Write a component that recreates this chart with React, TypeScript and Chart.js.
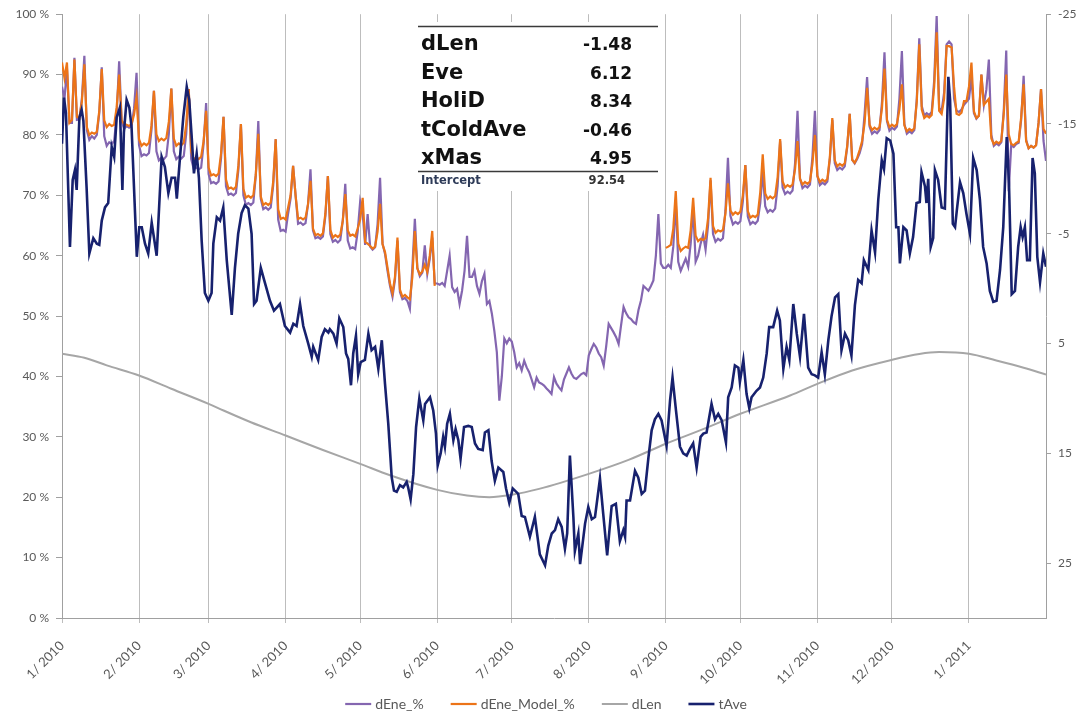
import React, { useEffect, useRef } from 'react';
import { Chart, registerables } from 'chart.js';

Chart.register(...registerables);

// ---- axis ticks ----
const monthTickDays = [0, 31, 59, 90, 120, 151, 181, 212, 243, 273, 304, 334, 365];
const monthTickLabels = ['1/ 2010', '2/ 2010', '3/ 2010', '4/ 2010', '5/ 2010', '6/ 2010', '7/ 2010', '8/ 2010', '9/ 2010', '10/ 2010', '11/ 2010', '12/ 2010', '1/ 2011'];
const leftTicks = [0, 10, 20, 30, 40, 50, 60, 70, 80, 90, 100];
const rightTicks = [-25, -15, -5, 5, 15, 25];

// ---- dEne_% : daily values, day 0 = 1 Jan 2010 ----
const dEneValues = [
  88, 86, 91,
  82, 82, 92.8, 82.5, 82.6, 86, 93.1,
  80.8, 79.2, 79.8, 79.4, 80, 83.6, 91.2,
  79.8, 78.2, 78.8, 78.5, 79, 83.4, 92.2,
  82.3, 81, 81.5, 81.2, 81.5, 84.4, 90.3,
  78.3, 76.5, 76.8, 76.6, 77, 80.8, 87.3,
  77.3, 75.8, 76.2, 76, 76.5, 80.2, 87.7,
  77.3, 76, 76.4, 76.1, 76.5, 80.2, 87.6,
  76, 74.4, 74.6, 74.3, 74.6, 78.6, 85.3,
  73.5, 72, 72.2, 71.9, 72.3, 76.1, 83,
  71.5, 70.1, 70.3, 70, 70.4, 74.3, 81.8,
  70, 68.4, 68.7, 68.4, 68.8, 73.3, 82.3,
  69.4, 67.7, 68, 67.6, 68, 71.7, 79.3,
  66, 64.1, 64.3, 64, 67, 69.5, 74.9,
  70, 65.3, 65.5, 65.1, 65.4, 68.5, 74.3,
  64.2, 62.9, 63.1, 62.8, 63.2, 66.6, 73.2,
  63.6, 62.3, 62.6, 62.2, 62.6, 65.8, 71.9,
  62.5, 61.2, 61.4, 61.1, 64, 69, 67,
  61.8, 66.9, 61.5, 61, 61.4, 65.2, 72.9,
  62, 60.3, 57.5, 55, 53.2, 56, 62.5,
  54, 52.8, 53, 52.5, 51.2, 58, 66.1,
  58, 56.6, 57.2, 61.7, 57, 59.5, 63,
  55.4, 55.4, 55.2, 55.5, 55, 57.5, 60,
  54.8, 54, 54.5, 52, 54.2, 57.5, 63.3,
  56.5, 56.5, 57.5, 55, 53.7, 55.8, 57,
  52, 52.5, 50.4, 47.5, 44, 36, 40,
  46.3, 45.5, 46.3, 45.8, 44, 41.5, 42.2,
  41, 42.6, 41.5, 40.7, 39.5, 38.2, 39.8,
  39, 38.8, 38.5, 38, 37.6, 37.1, 39.9,
  38.8, 38.2, 37.7, 39.5, 40.5, 41.5, 40.5,
  39.8, 39.6, 40, 40.4, 40.6, 40.2, 43.5,
  44.5, 45.4, 44.8, 43.8, 43.2, 41.8, 45,
  48.7, 48, 47.3, 46.5, 45.4, 48.5, 51.5,
  50.5, 49.8, 49.5, 49, 48.7, 51, 52.6,
  55, 54.6, 54.2, 55, 55.9, 60, 66.9,
  58.7, 58,
  58, 58.5, 58, 61.5, 69,
  59, 57.5, 58.5, 59.5, 58.2, 62, 68,
  59, 60, 62, 63.5, 61, 65, 72.5,
  63.6, 62.3, 62.8, 62.5, 62.9, 67.5, 76.2,
  66.6, 65.2, 65.6, 65.3, 65.7, 69, 75,
  66.5, 65.2, 65.6, 65.3, 65.8, 68.7, 74,
  68.2, 67.2, 67.6, 67.3, 67.8, 71.5, 79,
  71.3, 70.2, 70.6, 70.3, 70.8, 75.2, 84,
  72.8, 71.2, 71.6, 71.3, 71.8, 76.3, 84,
  73.2, 71.7, 72.1, 71.8, 72.3, 75.9, 82.5,
  75.3, 74.2, 74.6, 74.3, 74.8, 78, 83.5,
  75.9, 75.3, 76, 77, 78.5, 83.5, 89.6,
  81.4, 80.2, 80.6, 80.3, 80.8, 85.5, 93.7,
  82.3, 80.7, 81.2, 80.9, 81.4, 86, 93.9,
  81.8, 80.2, 80.6, 80.3, 80.8, 86, 96,
  84.8, 83.2, 83.6, 83.3, 83.8, 89, 99.7,
  84.5, 84, 87, 95, 95.5, 95, 86,
  84, 83.8, 84.2, 85, 85.5, 86, 89.6,
  83.6, 82.7, 83.2, 90, 85, 87.5, 92.5,
  80, 78.2, 78.6, 78.3, 78.8, 84, 94,
  70.7, 78.3, 78, 78.5, 78.7, 82.5, 89.8,
  79.2, 77.8, 78.2, 77.9, 78.3, 82, 87.6,
  79, 75.7,
];

// ---- dEne_Model_% : two fitted periods ----
const modelPart1Start = 0;
const modelPart1 = [
  92, 89.4, 92,
  82, 82.5, 92.5, 83, 82.8, 85.5, 91.7,
  81.3, 80, 80.4, 80.2, 80.5, 84, 90.9,
  82.4, 81.3, 81.8, 81.5, 81.7, 84.6, 90,
  82.4, 81.8, 81.7, 81.5, 81.8, 83.4, 86.2,
  79.3, 78.2, 78.6, 78.3, 78.7, 81.5, 87.3,
  80.1, 79, 79.4, 79.1, 79.5, 82.2, 87.7,
  79.4, 78.2, 78.6, 78.3, 78.7, 81.8, 87.6,
  77.3, 75.9, 76.3, 76, 76.4, 79, 84,
  74.6, 73.3, 73.5, 73.2, 73.6, 76.9, 83,
  72.6, 71.1, 71.3, 71, 71.4, 75, 81.8,
  71.1, 69.6, 69.9, 69.6, 70, 73.5, 80.2,
  69.8, 68.4, 68.7, 68.4, 68.8, 72.3, 79.3,
  67.7, 66.1, 66.3, 66, 68, 70, 74.9,
  70, 66.1, 66.3, 66, 66.3, 68.5, 72.4,
  64.5, 63.4, 63.6, 63.3, 63.7, 67, 73.2,
  64.3, 63, 63.4, 63.1, 63.5, 65.8, 70.2,
  64.2, 63.3, 63.5, 63.2, 64.5, 66, 69.6,
  62.3, 62, 61.6, 61.2, 61.5, 64, 68.6,
  61.9, 60.6, 58, 55.4, 53.8, 56.5, 63,
  54.4, 53.2, 53.5, 53.1, 52.8, 56.5, 64.1,
  57.9, 56.9, 57.4, 58.5, 57.3, 60, 64.1,
  55,
];
const modelPart2Start = 243;
const modelPart2 = [
  61.3, 61.5, 61.8, 64.5, 70.7,
  62, 60.8, 61.2, 61.5, 61.3, 64.2, 69.6,
  63.3, 62.4, 62.8, 62.6, 62.9, 66.2, 72.9,
  64.9, 63.8, 64.2, 64, 64.3, 67, 72,
  67.5, 66.8, 67.2, 66.9, 67.3, 70, 75,
  67.4, 66.3, 66.6, 66.4, 66.8, 70.5, 76.8,
  70.3, 69.4, 69.8, 69.5, 69.9, 73, 79.3,
  72.3, 71.3, 71.7, 71.4, 71.8, 74.3, 79,
  72.7, 71.8, 72.2, 71.9, 72.3, 75.2, 80,
  73.2, 72.2, 72.6, 72.3, 72.7, 76.3, 82.8,
  75.8, 74.8, 75.2, 74.9, 75.3, 78.2, 83.5,
  75.9, 75.4, 76.2, 77.5, 79, 82, 87.8,
  81.7, 80.8, 81.2, 80.9, 81.3, 84.5, 91,
  82.5, 81.3, 81.7, 81.4, 81.8, 84.2, 88.4,
  81.6, 80.6, 81, 80.7, 81.1, 85.5, 95,
  84.2, 82.8, 83.2, 82.9, 83.3, 88, 97,
  84, 83.5, 86, 94.7, 94.7, 94.5, 88,
  83.5, 83.3, 83.7, 85.6, 85.6, 88, 92,
  83.9, 82.8, 83.2, 90, 85, 85.5, 86,
  79.4, 78.5, 78.9, 78.6, 79, 83.5, 90,
  80.1, 78.5, 78.3, 78.7, 78.9, 82.9, 88.4,
  79, 77.8, 78.2, 77.9, 78.3, 82, 87.6,
  81, 80.2,
];

// ---- dLen (day length, hours, right axis) ----
const dLenDays = [0, 9, 18, 31, 44, 59, 65, 76, 90, 105, 120, 132, 151, 163, 172, 181, 192, 212, 228, 243, 258, 273, 293, 304, 318, 334, 345, 353, 365, 376, 387, 396];
const dLenValues = [5.93, 6.29, 6.99, 7.91, 9.12, 10.49, 11.1, 12.17, 13.38, 14.7, 15.96, 17.0, 18.33, 18.85, 19.0, 18.78, 18.24, 16.87, 15.6, 14.13, 12.8, 11.4, 9.73, 8.67, 7.45, 6.48, 5.95, 5.78, 5.93, 6.54, 7.2, 7.82];

// ---- tAve (temperature, right axis, reversed) ----
const tAveDays = [
  0, 0.8, 1.6, 3.2, 4.3, 5.2, 5.9, 7.0, 7.9, 8.6, 9.9, 11.0, 12.6, 14.0, 15.0, 16.0, 17.3, 18.6, 20.0, 21.0,
  22.0, 23.3, 24.3, 24.9, 26.0, 27.1, 28.0, 30.1, 31.1, 32.1, 33.4, 34.7, 36.1, 38.1, 40.1, 41.4, 42.8, 44.1, 45.5, 46.2,
  47.5, 48.8, 50.2, 51.2, 52.2, 53.1, 54.2, 55.1, 56.2, 57.5, 58.9, 60.2, 60.9, 62.3, 63.6, 64.9, 66.3, 68.3, 69.6, 70.9,
  72.3, 73.6, 75.0, 76.3, 77.3, 78.3, 80.0, 81.7, 83.7, 85.3, 87.7, 89.7, 91.1, 91.8, 93.1, 94.4, 95.8, 97.1, 99.1, 100.5,
  101.1, 103.1, 104.5, 105.8, 107.2, 107.8, 109.2, 110.5, 111.6, 113.2, 114.3, 115.2, 116.3, 117.2, 118.3, 119.2, 120.2, 121.9, 123.3, 124.6,
  126.0, 127.3, 128.7, 130.0, 131.3, 132.7, 133.6, 134.7, 136.0, 137.3, 138.7, 139.3, 140.3, 141.4, 142.5, 143.8, 145.4, 146.1, 148.1, 149.4,
  150.5, 151.2, 152.4, 153.4, 154.1, 155.0, 156.1, 157.5, 158.4, 159.5, 160.4, 161.8, 163.5, 164.9, 166.2, 167.5, 169.3, 170.2, 171.6, 172.9,
  174.2, 175.6, 177.6, 178.7, 180.0, 181.4, 183.6, 185.0, 186.3, 188.3, 190.3, 192.3, 194.4, 195.7, 197.1, 198.4, 199.7, 201.1, 202.4, 203.3,
  204.4, 205.8, 206.4, 207.8, 208.5, 210.5, 211.8, 213.2, 214.5, 216.5, 217.8, 219.4, 221.2, 222.9, 224.5, 225.9, 226.6, 227.2, 228.6, 230.6,
  231.9, 233.3, 234.6, 236.0, 237.3, 238.6, 240.0, 241.3, 243.3, 244.7, 245.7, 247.1, 248.7, 250.0, 251.4, 252.7, 254.0, 255.4, 257.0, 258.1,
  259.4, 261.4, 262.8, 264.1, 265.5, 267.2, 268.1, 269.5, 270.8, 272.2, 272.8, 274.2, 275.5, 276.6, 277.5, 279.5, 280.9, 282.2, 283.6, 284.6,
  286.2, 287.8, 288.9, 290.3, 291.6, 292.7, 294.3, 295.7, 297.0, 298.6, 300.3, 301.7, 303.0, 304.3, 305.7, 307.0, 308.4, 309.7, 311.1, 312.4,
  313.7, 315.1, 316.4, 317.7, 319.1, 320.4, 321.8, 322.7, 324.5, 325.8, 327.2, 328.5, 329.9, 330.8, 331.9, 333.3, 334.6, 335.7, 336.6, 337.2,
  338.6, 339.9, 341.2, 342.5, 343.9, 345.2, 345.9, 347.3, 347.9, 348.6, 349.6, 350.6, 351.3, 352.6, 354.0, 355.3, 356.7, 357.4, 358.5, 359.4,
  360.1, 361.4, 362.7, 364.0, 365.4, 366.7, 368.1, 369.4, 370.7, 372.1, 373.4, 374.8, 376.1, 377.5, 378.8, 380.2, 381.1, 382.2, 383.5, 384.8,
  385.8, 386.6, 387.5, 388.4, 389.5, 390.6, 391.5, 392.5, 393.6, 394.9, 396.0,
];
const tAveValues = [
  -13.2, -17.4, -16.0, -3.8, -9.9, -10.8, -9.0, -15.6, -16.3, -15.3, -9.2, -3.2, -4.6, -4.1, -4.0, -6.2, -7.4, -7.8, -12.9, -12.0,
  -15.6, -16.5, -9.0, -14.2, -17.2, -16.5, -14.7, -2.9, -5.6, -5.6, -4.1, -3.2, -6.0, -3.0, -12.0, -11.1, -8.7, -10.1, -10.1, -8.2,
  -12.0, -15.6, -18.4, -17.2, -13.8, -10.5, -12.3, -10.1, -4.4, 0.4, 1.1, 0.4, -4.1, -6.5, -6.2, -7.4, -2.6, 2.4, -1.9, -5.0,
  -6.9, -7.6, -7.3, -5.0, 1.4, 1.1, -1.9, -0.5, 1.1, 2.0, 1.4, 3.4, 3.8, 4.0, 3.2, 3.4, 1.4, 3.4, 5.0, 6.2,
  5.3, 6.5, 4.4, 3.7, 4.0, 3.7, 4.1, 5.0, 2.7, 3.5, 5.9, 6.4, 8.8, 5.9, 4.3, 7.8, 6.7, 6.5, 4.1, 5.6,
  5.3, 7.3, 4.7, 8.7, 12.3, 17.2, 18.4, 18.5, 17.9, 18.1, 17.6, 18.1, 19.2, 16.9, 12.6, 10.0, 12.0, 10.5, 9.9, 11.1,
  13.2, 16.1, 15.0, 13.5, 14.4, 12.3, 11.4, 13.8, 12.8, 13.8, 15.5, 12.6, 12.5, 12.6, 14.1, 14.6, 14.7, 13.1, 12.9, 15.7,
  17.5, 16.3, 16.7, 18.2, 19.5, 18.2, 18.7, 20.7, 20.8, 22.6, 20.8, 24.2, 25.2, 23.4, 22.3, 22.0, 21.0, 21.7, 23.7, 22.3,
  15.2, 20.8, 23.9, 22.3, 25.1, 21.4, 19.9, 21.0, 20.8, 17.3, 20.5, 24.3, 19.8, 19.6, 23.0, 22.0, 22.6, 19.3, 19.3, 16.6,
  17.2, 18.7, 18.4, 15.4, 12.9, 11.9, 11.4, 12.0, 14.3, 10.2, 8.1, 11.1, 14.4, 15.0, 15.2, 14.6, 14.1, 16.3, 13.5, 13.2,
  13.1, 10.5, 11.9, 11.4, 12.0, 14.0, 9.9, 9.0, 7.0, 7.2, 8.5, 6.5, 9.6, 10.9, 9.9, 9.3, 9.0, 8.1, 5.9, 3.5,
  3.5, 2.0, 2.9, 7.3, 5.3, 6.5, 1.4, 4.1, 6.2, 2.3, 7.2, 7.8, 7.9, 8.1, 5.8, 7.8, 4.7, 2.5, 0.8, 0.5,
  5.6, 4.1, 4.7, 6.1, 1.5, -0.8, -0.5, -2.6, -1.7, -5.3, -3.3, -8.1, -11.7, -10.9, -13.7, -13.5, -12.3, -5.6, -5.6, -2.3,
  -5.6, -5.3, -3.2, -4.7, -7.8, -7.9, -10.6, -9.3, -7.8, -10.0, -3.8, -4.6, -10.8, -9.9, -7.4, -7.3, -19.3, -17.2, -5.9, -5.6,
  -7.1, -9.7, -8.7, -6.8, -5.0, -11.9, -10.8, -8.1, -3.8, -2.3, 0.2, 1.2, 1.1, -1.7, -5.6, -13.8, -9.6, 0.5, 0.2, -3.8,
  -5.6, -4.7, -5.6, -2.6, -2.6, -11.9, -10.5, -2.9, -0.6, -3.2, -2.0,
];

// ---- regression table ----
const coefNames = ['dLen', 'Eve', 'HoliD', 'tColdAve', 'xMas'];
const coefValues = ['-1.48', '6.12', '8.34', '-0.46', '4.95'];
const interceptLabel = 'Intercept';
const interceptValue = '92.54';

const PURPLE = '#8466B0';
const ORANGE = '#EC7418';
const GRAY = '#A6A6A6';
const NAVY = '#17216E';
const TEXT = '#595959';
const GRID = '#BDBDBD';
const AXIS = '#A0A0A0';

const tablePlugin = {
  id: 'coefTable',
  beforeDatasetsDraw(chart: any) {
    const ctx = chart.ctx;
    ctx.save();
    ctx.fillStyle = '#ffffff';
    ctx.fillRect(412, 22, 252, 169);
    ctx.strokeStyle = '#3a3a3a';
    ctx.lineWidth = 1.5;
    ctx.beginPath();
    ctx.moveTo(418, 26.5);
    ctx.lineTo(658, 26.5);
    ctx.moveTo(418, 171.5);
    ctx.lineTo(658, 171.5);
    ctx.stroke();
    ctx.textBaseline = 'alphabetic';
    ctx.fillStyle = '#111111';
    ctx.font = 'bold 21px "DejaVu Sans"';
    ctx.textAlign = 'left';
    coefNames.forEach((n, i) => ctx.fillText(n, 421, 50 + i * 28.5));
    ctx.font = 'bold 17px "DejaVu Sans"';
    ctx.textAlign = 'right';
    coefValues.forEach((v, i) => ctx.fillText(v, 632, 50 + i * 28.5));
    ctx.font = 'bold 11.5px "DejaVu Sans"';
    ctx.fillStyle = '#2E3B58';
    ctx.textAlign = 'left';
    ctx.fillText(interceptLabel, 421, 184);
    ctx.fillStyle = '#333333';
    ctx.textAlign = 'right';
    ctx.fillText(interceptValue, 625, 184);
    ctx.restore();
  },
};

// bottom legend drawn from the datasets (line swatch + label)
const legendPlugin = {
  id: 'bottomLegend',
  afterDraw(chart: any) {
    const ctx = chart.ctx;
    ctx.save();
    ctx.font = '14px Lato, "Open Sans", sans-serif';
    ctx.textBaseline = 'middle';
    ctx.textAlign = 'left';
    const items = chart.data.datasets.map((ds: any) => ({ label: ds.label, color: ds.borderColor, width: ds.borderWidth }));
    const lineW = 26;
    const gapText = 4;
    const gapItem = 27;
    const widths = items.map((it: any) => lineW + gapText + ctx.measureText(it.label).width);
    const total = widths.reduce((a: number, b: number) => a + b, 0) + gapItem * (items.length - 1);
    let x = 546 - total / 2;
    const y = 704;
    items.forEach((it: any, i: number) => {
      ctx.strokeStyle = it.color;
      ctx.lineWidth = it.width;
      ctx.beginPath();
      ctx.moveTo(x, y);
      ctx.lineTo(x + lineW, y);
      ctx.stroke();
      ctx.fillStyle = TEXT;
      ctx.fillText(it.label, x + lineW + gapText, y);
      x += widths[i] + gapItem;
    });
    ctx.restore();
  },
};

export default function App() {
  const canvasRef = useRef<HTMLCanvasElement | null>(null);

  useEffect(() => {
    if (!canvasRef.current) return;
    Chart.defaults.font.family = 'Lato, "Open Sans", sans-serif';

    const dEneData = dEneValues.map((v, i) => ({ x: i, y: v }));
    const modelData: any[] = [
      ...modelPart1.map((v, i) => ({ x: modelPart1Start + i, y: v })),
      { x: modelPart1Start + modelPart1.length, y: null },
      ...modelPart2.map((v, i) => ({ x: modelPart2Start + i, y: v })),
    ];
    const dLenData = dLenDays.map((d, i) => ({ x: d, y: dLenValues[i] }));
    const tAveData = tAveDays.map((d, i) => ({ x: d, y: tAveValues[i] }));

    const chart = new Chart(canvasRef.current, {
      type: 'line',
      data: {
        datasets: [
          { label: 'dEne_%', data: dEneData, borderColor: PURPLE, backgroundColor: PURPLE, borderWidth: 2.2, pointRadius: 0, yAxisID: 'y', order: 2 },
          { label: 'dEne_Model_%', data: modelData, borderColor: ORANGE, backgroundColor: ORANGE, borderWidth: 2.2, pointRadius: 0, yAxisID: 'y', order: 1, spanGaps: false },
          { label: 'dLen', data: dLenData, borderColor: GRAY, backgroundColor: GRAY, borderWidth: 2, pointRadius: 0, yAxisID: 'y2', order: 3, cubicInterpolationMode: 'monotone' },
          { label: 'tAve', data: tAveData, borderColor: NAVY, backgroundColor: NAVY, borderWidth: 2.6, pointRadius: 0, yAxisID: 'y2', order: 0 },
        ] as any,
      },
      options: {
        responsive: false,
        devicePixelRatio: 1,
        animation: false,
        events: [],
        layout: { padding: { top: 13, left: 0, right: 0, bottom: 0 } },
        plugins: {
          tooltip: { enabled: false },
          legend: { display: false },
        },
        scales: {
          x: {
            type: 'linear',
            min: 0,
            max: 396,
            afterBuildTicks: (scale: any) => {
              scale.ticks = monthTickDays.map((v) => ({ value: v }));
            },
            afterFit: (scale: any) => {
              scale.height = scale.chart.height - 618;
            },
            ticks: {
              autoSkip: false,
              maxRotation: 45,
              minRotation: 45,
              padding: 15,
              color: TEXT,
              font: { size: 13 },
              callback: (value: any) => {
                const idx = monthTickDays.indexOf(Number(value));
                return idx >= 0 ? monthTickLabels[idx] : '';
              },
            },
            grid: { color: GRID, lineWidth: 1, drawTicks: true, tickLength: 5 },
            border: { color: AXIS },
          },
          y: {
            position: 'left',
            min: 0,
            max: 100,
            afterBuildTicks: (scale: any) => {
              scale.ticks = leftTicks.map((v) => ({ value: v }));
            },
            afterFit: (scale: any) => {
              scale.width = 62;
            },
            ticks: {
              padding: 7,
              color: TEXT,
              font: { size: 12 },
              callback: (value: any) => value + ' %',
            },
            grid: { drawOnChartArea: false, drawTicks: true, tickLength: 6, color: AXIS },
            border: { color: AXIS },
          },
          y2: {
            position: 'right',
            reverse: true,
            min: -25,
            max: 30,
            afterBuildTicks: (scale: any) => {
              scale.ticks = rightTicks.map((v) => ({ value: v }));
            },
            afterFit: (scale: any) => {
              scale.width = 42;
            },
            ticks: {
              padding: 7,
              color: TEXT,
              font: { size: 12 },
            },
            grid: { drawOnChartArea: false, drawTicks: true, tickLength: 5, color: AXIS },
            border: { color: AXIS },
          },
        },
      } as any,
      plugins: [tablePlugin, legendPlugin],
    });

    return () => {
      chart.destroy();
    };
  }, []);

  return (
    <div style={{ position: 'absolute', left: 0, top: 0, width: 1088, height: 717, background: '#ffffff' }}>
      <canvas ref={canvasRef} width={1088} height={717} style={{ display: 'block', width: 1088, height: 717 }} />
    </div>
  );
}
